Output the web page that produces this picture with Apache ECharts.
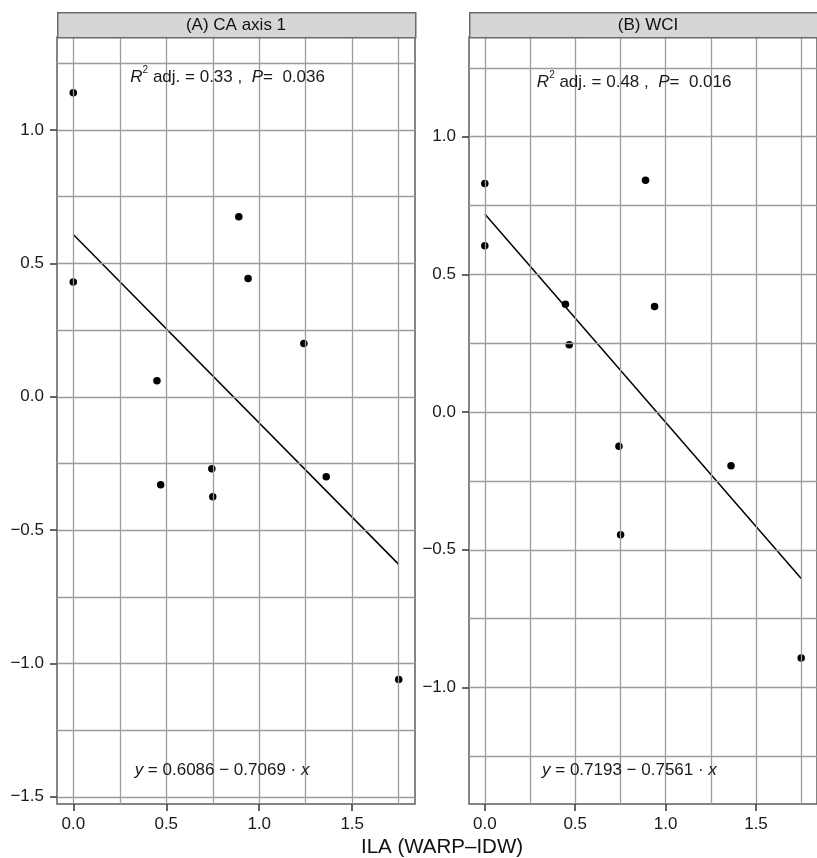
<!DOCTYPE html>
<html><head><meta charset="utf-8">
<script src="https://cdn.jsdelivr.net/npm/echarts@6/dist/echarts.min.js"></script>
<style>html,body{margin:0;padding:0;background:#fff}#c{width:817px;height:858px}</style>
</head><body><div id="c"></div>
<script>
// ---- data ----
const panelTitles = ['(A) CA axis 1', '(B) WCI'];
const xTitle = 'ILA (WARP\u2013IDW)';
const xTicks = [0, 0.5, 1.0, 1.5];
const xGrid = [0, 0.25, 0.5, 0.75, 1.0, 1.25, 1.5, 1.75];
const yTicksA = [-1.5, -1.0, -0.5, 0.0, 0.5, 1.0];
const yGridA = [-1.5, -1.25, -1.0, -0.75, -0.5, -0.25, 0, 0.25, 0.5, 0.75, 1.0, 1.25];
const yTicksB = [-1.0, -0.5, 0.0, 0.5, 1.0];
const yGridB = [-1.25, -1.0, -0.75, -0.5, -0.25, 0, 0.25, 0.5, 0.75, 1.0, 1.25];
const ilaA = [0, 0, 0.45, 0.47, 0.745, 0.75, 0.89, 0.94, 1.24, 1.36, 1.75];
const caAxis1 = [1.14, 0.43, 0.06, -0.33, -0.27, -0.375, 0.675, 0.443, 0.20, -0.30, -1.06];
const ilaB = [0, 0, 0.446, 0.467, 0.742, 0.751, 0.889, 0.939, 1.362, 1.75];
const wci = [0.83, 0.604, 0.392, 0.245, -0.124, -0.445, 0.842, 0.383, -0.195, -0.893];
const fitAx = [0, 1.75];
const fitAy = [0.6086, -0.6285];
const fitBx = [0, 1.75];
const fitBy = [0.7193, -0.6039];
const statsA = {r2: '0.33', p: '0.036', eq: ['0.6086', '0.7069']};
const statsB = {r2: '0.48', p: '0.016', eq: ['0.7193', '0.7561']};

// ---- chart ----
const FONT = '"Liberation Sans", Arial, Helvetica, sans-serif';
const TXT = '#1a1a1a';
const GRIDC = '#9c9c9c';
const fmt = v => (v < 0 ? '\u2212' : '') + Math.abs(v).toFixed(1);
const chart = echarts.init(document.getElementById('c'), null, {renderer: 'canvas'});

const grids = [
  {left: 57, top: 37, width: 358, height: 767},
  {left: 469, top: 37, width: 358, height: 767}
];
const yRanges = [[-1.527, 1.349], [-1.423, 1.362]];
const yTicks = [yTicksA, yTicksB];
const yGrids = [yGridA, yGridB];
const xs = [ilaA, ilaB], ys = [caAxis1, wci];
const fits = [[fitAx, fitAy], [fitBx, fitBy]];
const stats = [statsA, statsB];
const statPos = [[[0.83, 1.197], [0.80, -1.40]], [[0.826, 1.198], [0.80, -1.30]]];

const base = {fontFamily: FONT, color: TXT, textBorderWidth: 0, textBorderColor: 'transparent', textShadowBlur: 0};
const rich = {
  n: Object.assign({fontSize: 17, lineHeight: 24}, base),
  i: Object.assign({fontSize: 17, fontStyle: 'italic', lineHeight: 24}, base),
  sup: Object.assign({fontSize: 10, lineHeight: 8, verticalAlign: 'top'}, base)
};

const xAxes = [], yAxes = [], series = [], graphic = [];
grids.forEach((g, k) => {
  xAxes.push({
    type: 'value', gridIndex: k, min: -0.0875, max: 1.8375, position: 'bottom',
    axisLine: {show: false, onZero: false},
    axisTick: {show: true, inside: false, customValues: xTicks, length: 7, lineStyle: {color: '#333', width: 1.5}},
    axisLabel: {customValues: xTicks, formatter: fmt, margin: 12, fontSize: 17, fontFamily: FONT, color: TXT},
    splitLine: {show: false}
  });
  yAxes.push({
    type: 'value', gridIndex: k, min: yRanges[k][0], max: yRanges[k][1], position: 'left',
    axisLine: {show: false, onZero: false},
    axisTick: {show: true, inside: false, customValues: yTicks[k], length: 7, lineStyle: {color: '#333', width: 1.5}},
    axisLabel: {customValues: yTicks[k], formatter: fmt, margin: 13, fontSize: 17, fontFamily: FONT, color: TXT},
    splitLine: {show: false}
  });
  series.push({
    type: 'line', xAxisIndex: k, yAxisIndex: k, data: [], z: 1, silent: true,
    markLine: {
      silent: true, symbol: ['none', 'none'], label: {show: false}, animation: false,
      lineStyle: {color: GRIDC, width: 1.3, type: 'solid'},
      emphasis: {disabled: true},
      data: xGrid.map(v => ({xAxis: v})).concat(yGrids[k].map(v => ({yAxis: v})))
    }
  });
  series.push({
    type: 'line', xAxisIndex: k, yAxisIndex: k, z: 3, symbol: 'none', silent: true,
    data: fits[k][0].map((x, i) => [x, fits[k][1][i]]),
    lineStyle: {color: '#000', width: 1.5}
  });
  series.push({
    type: 'scatter', xAxisIndex: k, yAxisIndex: k, z: 4, symbolSize: 7.5,
    itemStyle: {color: '#000', opacity: 1},
    data: xs[k].map((x, i) => [x, ys[k][i]])
  });
  const s = stats[k];
  series.push({
    type: 'scatter', xAxisIndex: k, yAxisIndex: k, z: 5, symbolSize: 0, silent: true,
    itemStyle: {color: TXT, opacity: 1},
    data: [
      {value: statPos[k][0], label: {formatter: '{i|R}{sup|2}{n| adj. = ' + s.r2 + ' ,  }{i|P}{n|=  ' + s.p + '}'}},
      {value: statPos[k][1], label: {formatter: '{i|y}{n| = ' + s.eq[0] + ' \u2212 ' + s.eq[1] + ' \u00b7 }{i|x}'}}
    ],
    label: Object.assign({show: true, position: 'inside', rich: rich}, base)
  });
  graphic.push({
    type: 'rect', left: g.left, top: 12, shape: {width: g.width, height: 25},
    style: {fill: '#d6d6d6', stroke: '#6a6a6a', lineWidth: 1.5}, z: 10
  });
  graphic.push({
    type: 'text', x: g.left + g.width / 2, y: 25,
    style: {text: panelTitles[k], fill: '#111', font: '17px ' + FONT, textAlign: 'center', textVerticalAlign: 'middle'}, z: 11
  });
});
graphic.push({
  type: 'text', x: 442, y: 847,
  style: {text: xTitle, fill: '#111', font: '20.5px ' + FONT, textAlign: 'center', textVerticalAlign: 'middle'}, z: 11
});

chart.setOption({
  animation: false,
  backgroundColor: '#fff',
  grid: grids.map(g => Object.assign({show: true, borderColor: '#5e5e5e', borderWidth: 1.5, backgroundColor: '#fff'}, g)),
  xAxis: xAxes,
  yAxis: yAxes,
  series: series,
  graphic: graphic
});
</script>
</body></html>
